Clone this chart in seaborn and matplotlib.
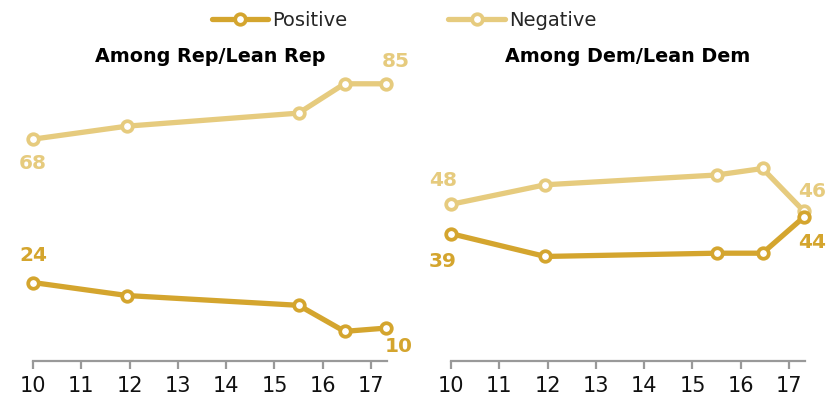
import matplotlib
matplotlib.use("Agg")
import matplotlib.pyplot as plt
import seaborn as sns
import pandas as pd

# ---- data ----
years = [10.0, 11.95, 15.5, 16.45, 17.3]
rep_positive = [24, 20, 17, 9, 10]
rep_negative = [68, 72, 76, 85, 85]
dem_positive = [39, 32, 33, 33, 44]
dem_negative = [48, 54, 57, 59, 46]
panel_titles = ["Among Rep/Lean Rep", "Among Dem/Lean Dem"]
series_names = ["Positive", "Negative"]
tick_values = [10, 11, 12, 13, 14, 15, 16, 17]
tick_labels = ["10", "11", "12", "13", "14", "15", "16", "17"]

POS_C = "#D4A52E"
NEG_C = "#E6CB7E"

rows = []
for panel, pos, neg in [(panel_titles[0], rep_positive, rep_negative),
                        (panel_titles[1], dem_positive, dem_negative)]:
    for x, p, n in zip(years, pos, neg):
        rows.append({"panel": panel, "series": "Positive", "year": x, "value": p})
        rows.append({"panel": panel, "series": "Negative", "year": x, "value": n})
df = pd.DataFrame(rows)

sns.set_style("white")
plt.rcParams["font.family"] = ["DejaVu Sans"]

fig = plt.figure(figsize=(8.33, 4.02), dpi=100)
ax_l = fig.add_axes([33 / 833, 1 - 361.7 / 402, (387 - 33) / 833, (361.7 - 68.5) / 402])
ax_r = fig.add_axes([451 / 833, 1 - 361.7 / 402, (805 - 451) / 833, (361.7 - 68.5) / 402])

colors = {"Positive": POS_C, "Negative": NEG_C}

# label offsets in pixels: (dx, dy, point index)
label_offsets = {
    (panel_titles[0], "Negative"): [(0, -23, 0), (10, 23, 4)],
    (panel_titles[0], "Positive"): [(0, 28, 0), (13, -17, 4)],
    (panel_titles[1], "Negative"): [(-8, 25, 0), (9, 20, 4)],
    (panel_titles[1], "Positive"): [(-8, -27, 0), (9, -24, 4)],
}

handles = {}
for ax, title in zip([ax_l, ax_r], panel_titles):
    for s in ["Negative", "Positive"]:
        sub = df[(df.panel == title) & (df.series == s)]
        sns.lineplot(data=sub, x="year", y="value", ax=ax, color=colors[s],
                     linewidth=3.8, marker="o", markersize=7.6,
                     markerfacecolor="white", markeredgecolor=colors[s],
                     markeredgewidth=2.7, label=s, legend=False,
                     solid_capstyle="round", clip_on=False)
        handles[s] = ax.lines[-1]
        xs = sub["year"].tolist()
        vs = sub["value"].tolist()
        for dx, dy, idx in label_offsets[(title, s)]:
            ax.annotate(f"{vs[idx]}", xy=(xs[idx], vs[idx]), xytext=(dx, dy),
                        textcoords="offset pixels", ha="center", va="center",
                        fontsize=14.5, fontweight="bold", color=colors[s])
    ax.set_xlim(10, 17.33)
    ax.set_ylim(0, 90)
    ax.set_xticks(tick_values)
    ax.set_xticklabels(tick_labels)
    ax.set_yticks([])
    ax.set_xlabel("")
    ax.set_ylabel("")
    ax.set_title(title, fontsize=13.8, fontweight="bold", pad=4.5, color="black")
    for sp in ["left", "right", "top"]:
        ax.spines[sp].set_visible(False)
    ax.spines["bottom"].set_color("#999999")
    ax.spines["bottom"].set_linewidth(1.6)
    ax.tick_params(axis="x", direction="out", length=6, width=1.6,
                   color="#999999", labelsize=15, labelcolor="#111111", pad=4.5,
                   bottom=True)
    ax.patch.set_alpha(0)

fig.legend([handles["Positive"], handles["Negative"]], series_names,
           loc="center", bbox_to_anchor=(404 / 833, 1 - 21 / 402), ncol=2,
           frameon=False, fontsize=14, handlelength=2.9, handletextpad=0.2,
           columnspacing=5.2, borderaxespad=0)

fig.savefig("out.png", dpi=100)
